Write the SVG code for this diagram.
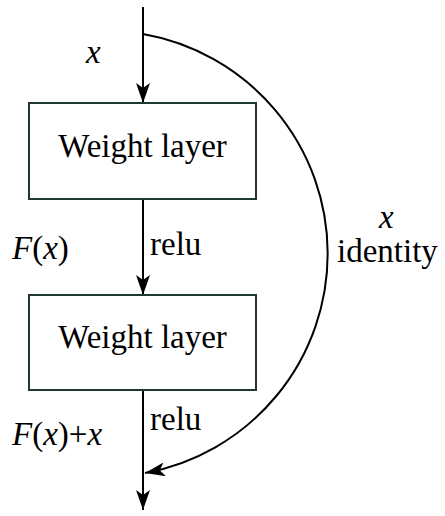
<svg xmlns="http://www.w3.org/2000/svg" width="445" height="516" viewBox="0 0 445 516">
<style>
.box{fill:#ffffff;stroke:#1f3a2a;stroke-width:2}
.ln{fill:none;stroke:#000;stroke-width:2}
.t{font-size:33px;fill:#000}
.i{font-style:italic}
</style>
<defs>
<marker id="ah" viewBox="0 0 20 14" refX="20" refY="7" markerWidth="20" markerHeight="14" markerUnits="userSpaceOnUse" orient="auto">
<path d="M0,0 L20,7 L0,14 L5,7 Z" fill="#000"/>
</marker>
</defs>
<rect width="445" height="516" fill="#fff"/>
<g id="connectors">
<line class="ln" x1="143" y1="7" x2="143" y2="103" marker-end="url(#ah)"/>
<line class="ln" x1="143" y1="199" x2="143" y2="295" marker-end="url(#ah)"/>
<line class="ln" x1="143" y1="390" x2="143" y2="510" marker-end="url(#ah)"/>
<path class="ln" d="M143,34 A223,223 0 0 1 145,473" marker-end="url(#ah)"/>
</g>
<g font-family="Liberation Serif, serif">
<g id="layer1">
<rect class="box" x="29" y="103" width="227" height="96"/>
<text class="t" x="142.5" y="157" text-anchor="middle">Weight layer</text>
</g>
<g id="layer2">
<rect class="box" x="29" y="295" width="227" height="95"/>
<text class="t" x="142.5" y="348" text-anchor="middle">Weight layer</text>
</g>
<g id="labels">
<text class="t i" x="86" y="63">x</text>
<text class="t" x="12" y="259"><tspan class="i">F</tspan>(<tspan class="i">x</tspan>)</text>
<text class="t" x="150" y="255">relu</text>
<text class="t i" x="379" y="228">x</text>
<text class="t" x="337" y="262">identity</text>
<text class="t" x="150" y="430">relu</text>
<text class="t" x="12" y="445"><tspan class="i">F</tspan>(<tspan class="i">x</tspan>)+<tspan class="i">x</tspan></text>
</g>
</g>
</svg>
